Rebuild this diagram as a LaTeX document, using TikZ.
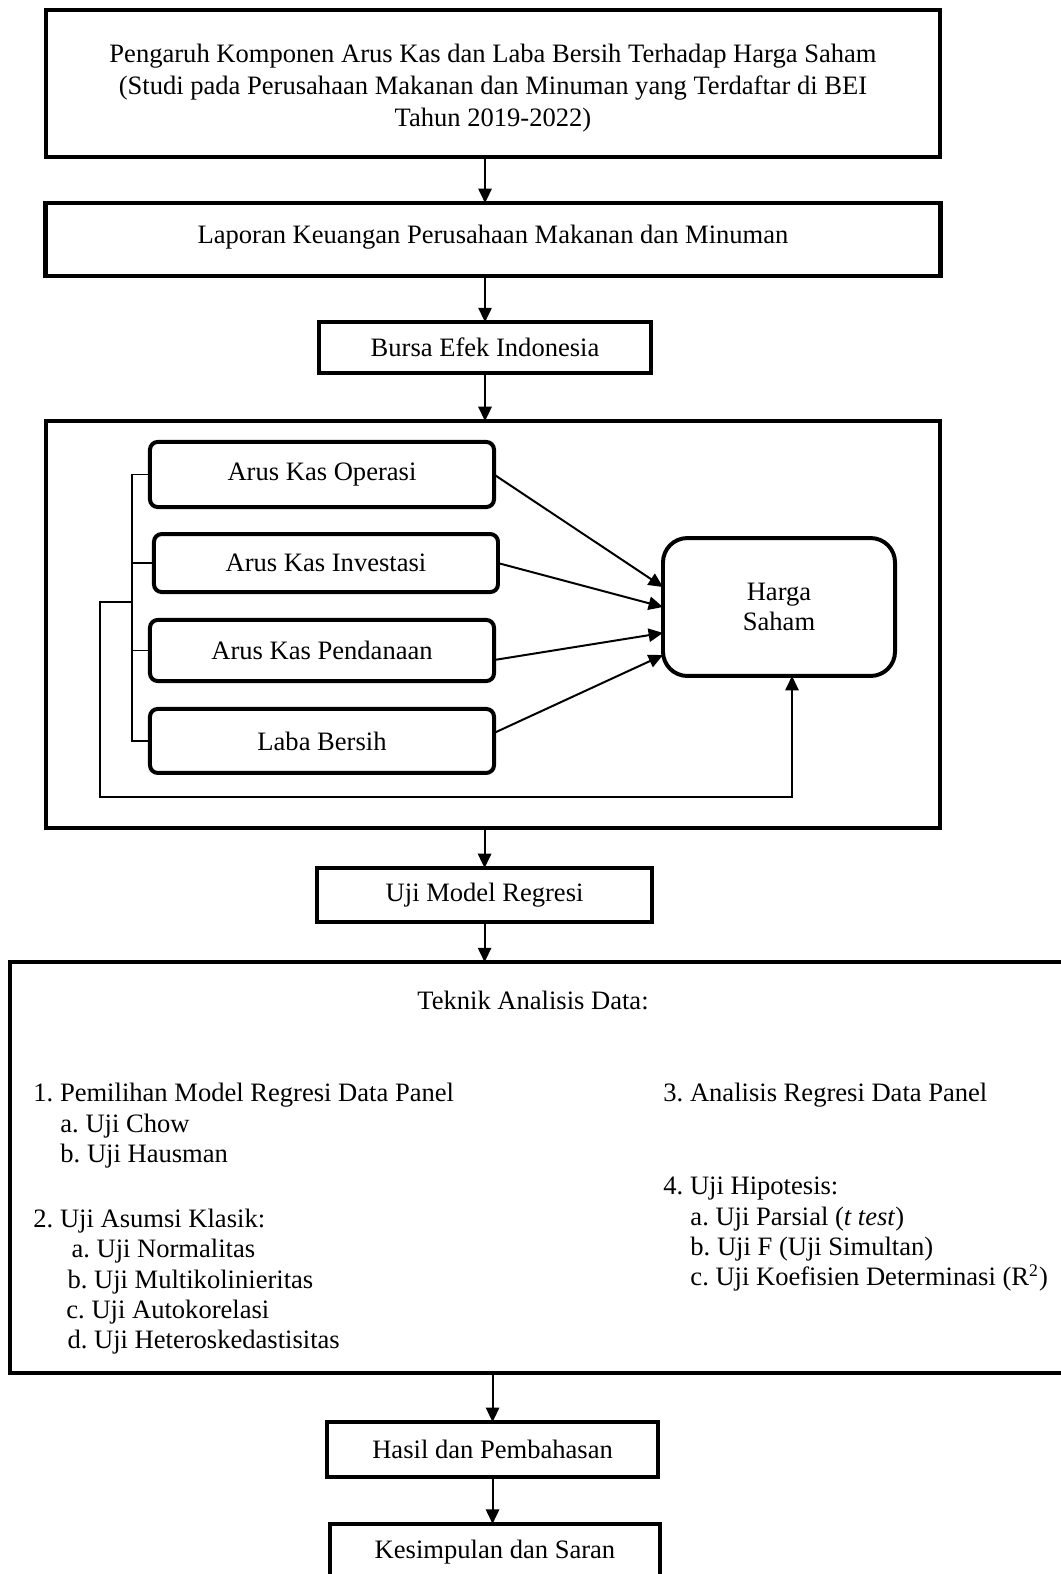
\documentclass[tikz,border=0pt]{standalone}
\usepackage{fontspec}
\setmainfont{Liberation Serif}
\usetikzlibrary{positioning,arrows.meta}
\frenchspacing

\begin{document}
\begin{tikzpicture}[
  x=0.4517pt, y=-0.4517pt,
  font=\fontsize{12pt}{13.7pt}\selectfont,
  box/.style={draw, line width=1.9pt, outer sep=0pt, inner sep=0pt, align=center},
  rbox/.style={draw, line width=1.8pt, rounded corners=3.5pt, outer sep=0pt,
               inner sep=0pt, minimum width=155.4pt, align=center},
  arr/.style={-{Triangle[length=6.5pt,width=6pt]}, line width=0.9pt},
  link/.style={line width=0.8pt},
  lst/.style={anchor=north west, inner sep=0pt, align=left}
]
\useasboundingbox (0,0) rectangle (1061,1574);

% main chain
\node[box, minimum width=403.8pt, minimum height=66.4pt,
      font=\fontsize{12pt}{14.45pt}\selectfont] (judul) at (493,83.5)
  {\rule{0pt}{12.7pt}Pengaruh Komponen Arus Kas dan Laba Bersih Terhadap Harga Saham\\
   (Studi pada Perusahaan Makanan dan Minuman yang Terdaftar di BEI\\
   Tahun 2019-2022)};
\node[box, minimum width=404.3pt, minimum height=33pt, below=20.8pt of judul] (lapkeu)
  {Laporan Keuangan Perusahaan Makanan dan Minuman\rule[-5pt]{0pt}{0pt}};
\node[box, minimum width=150pt, minimum height=23pt,
      below=20.8pt of lapkeu, xshift=-3.6pt] (bei) {Bursa Efek Indonesia};
\node[box, minimum width=403.8pt, minimum height=183.8pt,
      below=21.7pt of bei, xshift=3.6pt] (model) {};
\node[box, minimum width=151.3pt, minimum height=24.4pt,
      below=18.1pt of model, xshift=-3.8pt] (ujimodel) {Uji Model Regresi};
\node[box, minimum width=483.3pt, minimum height=185.6pt,
      below=18.1pt of ujimodel, xshift=27.3pt] (teknik) {};
\node[box, minimum width=149.5pt, minimum height=24.8pt,
      below=22.1pt of teknik, xshift=-23.7pt] (hasil) {Hasil dan Pembahasan};
\node[box, minimum width=149.1pt, minimum height=25.3pt,
      below=21.2pt of hasil, xshift=1.1pt] (saran) {Kesimpulan dan Saran};

% research model
\node[rbox, minimum height=29.4pt] (ako) at (322,474.5) {Arus Kas Operasi};
\node[rbox, minimum height=26.2pt, below=12.2pt of ako, xshift=1.8pt] (aki) {Arus Kas Investasi};
\node[rbox, minimum height=27.6pt, below=12.6pt of aki, xshift=-1.8pt] (akp) {Arus Kas Pendanaan};
\node[rbox, minimum height=28.9pt, below=12.6pt of akp] (laba) {Laba Bersih};
\node[rbox, minimum width=104.8pt, minimum height=62.3pt, rounded corners=11pt] (harga)
  at (779,607) {Harga\\Saham};

\coordinate (brk) at (132,602);
\coordinate (fbl) at (100,797);
\coordinate (fbr) at (792,797);

\draw[link] (ako.west) -- (ako.west -| brk) -- (laba.west -| brk) -- (laba.west);
\draw[link] (aki.west) -- (aki.west -| brk);
\draw[link] (akp.west) -- (akp.west -| brk);
\draw[arr] (brk) -| (fbl) -- (fbr) -- (fbr |- harga.south);

\draw[arr] (ako.east) -- ([yshift=9pt]harga.west);
\draw[arr] (aki.east) -- (harga.west);
\draw[arr] ([yshift=-4.3pt]akp.east) -- ([yshift=-11.7pt]harga.west);
\draw[arr] ([yshift=3.6pt]laba.east) -- ([yshift=-21.7pt]harga.west);

% data analysis
\node (tad) at (533,1000) {Teknik Analisis Data:};
\node[lst] (langkah1) at (33,1083)
  {1. Pemilihan Model Regresi Data Panel\\
   \hspace*{12.2pt}a. Uji Chow\\
   \hspace*{12.2pt}b. Uji Hausman\\[15.7pt]
   2. Uji Asumsi Klasik:\\
   \hspace*{17.2pt}a. Uji Normalitas\\
   \hspace*{15.4pt}b. Uji Multikolinieritas\\
   \hspace*{14.9pt}c. Uji Autokorelasi\\
   \hspace*{15.4pt}d. Uji Heteroskedastisitas};
\node[lst] (langkah3) at (663,1083)
  {3. Analisis Regresi Data Panel\\[28.3pt]
   4. Uji Hipotesis:\\
   \hspace*{12.2pt}a. Uji Parsial (\textit{t test})\\
   \hspace*{12.2pt}b. Uji F (Uji Simultan)\\
   \hspace*{12.2pt}c. Uji Koefisien Determinasi (R\textsuperscript{2})};

% flow arrows
\draw[arr] (judul.south -| bei) -- (lapkeu.north -| bei);
\draw[arr] (lapkeu.south -| bei) -- (bei.north);
\draw[arr] (bei.south) -- (bei.south |- model.north);
\draw[arr] (model.south -| ujimodel) -- (ujimodel.north);
\draw[arr] (ujimodel.south) -- (ujimodel.south |- teknik.north);
\draw[arr] (teknik.south -| hasil) -- (hasil.north);
\draw[arr] (hasil.south) -- (hasil.south |- saran.north);
\end{tikzpicture}
\end{document}
